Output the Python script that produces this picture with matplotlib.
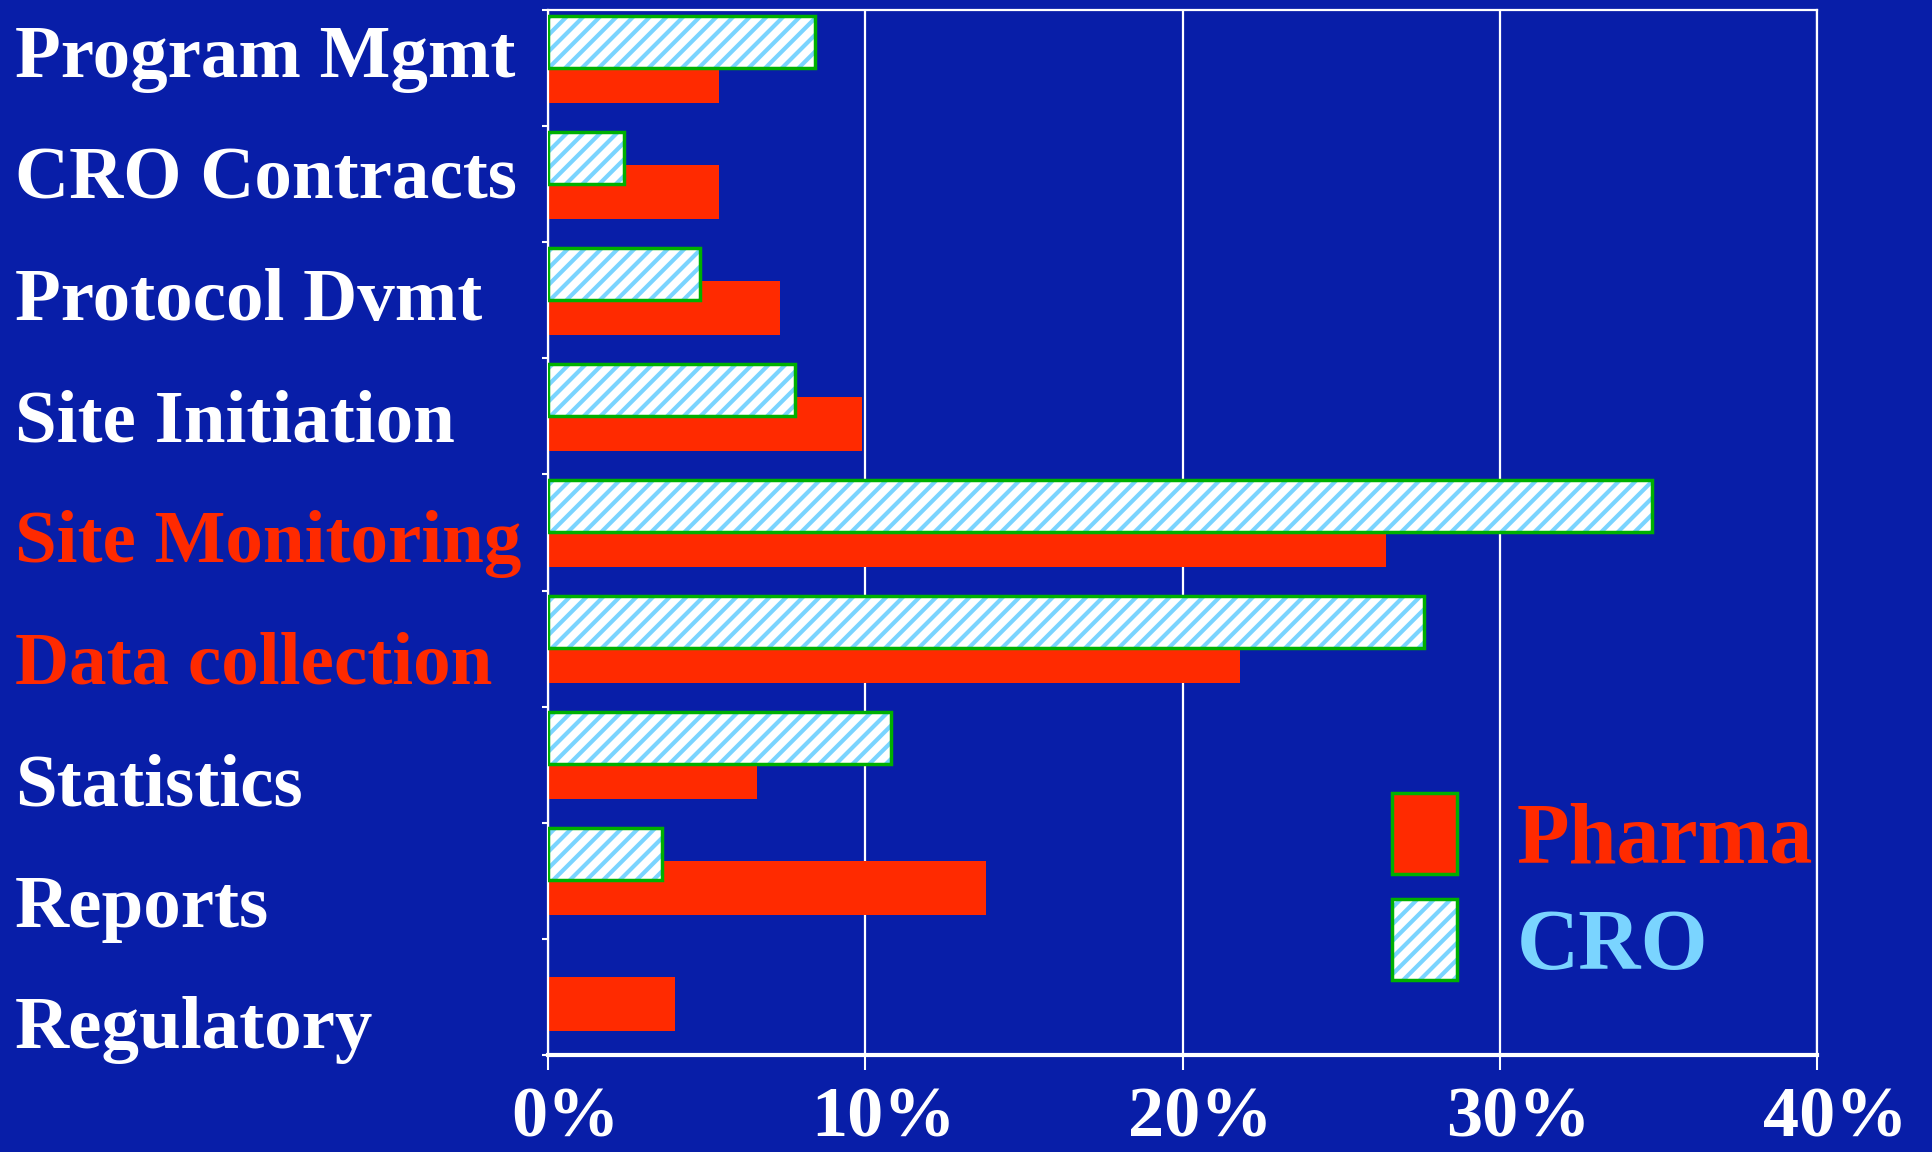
import numpy as np
import matplotlib
matplotlib.use("Agg")
import matplotlib.pyplot as plt
import matplotlib.transforms as mtransforms
from matplotlib.patches import Patch

# data (percent of effort)
tasks = ["Program Mgmt", "CRO Contracts", "Protocol Dvmt", "Site Initiation",
         "Site Monitoring", "Data collection", "Statistics", "Reports", "Regulatory"]
pharma = [5.4, 5.4, 7.3, 9.9, 26.4, 21.8, 6.6, 13.8, 4.0]
cro = [8.4, 2.4, 4.8, 7.8, 34.8, 27.6, 10.8, 3.6, 0.0]
highlight = ["Site Monitoring", "Data collection"]
xticks = [0, 10, 20, 30, 40]

blue = "#081EA8"
red = "#FF2A00"
green = "#00B000"
light = "#7AD4FF"

plt.rcParams['font.family'] = ['Liberation Serif', 'DejaVu Serif']
plt.rcParams['font.weight'] = 'bold'
plt.rcParams['hatch.linewidth'] = 3.0

fig = plt.figure(figsize=(19.32, 11.52), dpi=100, facecolor=blue)
ax = fig.add_axes([0.2836, 0.0845, 0.9407 - 0.2836, 0.991 - 0.0845])
ax.set_facecolor(blue)

y = np.arange(len(tasks))
cro = np.array(cro)
pharma = np.array(pharma)

ax.barh(y + 0.065, pharma, height=0.467, color=red, linewidth=0, zorder=2)
m = cro > 0
ax.barh(y[m] - 0.23, cro[m], height=0.446, color="white", hatch="//",
        edgecolor=light, linewidth=0, zorder=3)
ax.barh(y[m] - 0.23, cro[m], height=0.446, fill=False,
        edgecolor=green, linewidth=2.5, zorder=4)

ax.set_xlim(0, 40)
ax.set_ylim(len(tasks) - 0.5, -0.5)

ax.grid(axis="x", color="white", linewidth=1.6, zorder=1)
ax.set_axisbelow(True)
for s in ax.spines.values():
    s.set_color("white")
    s.set_linewidth(1.6)
ax.spines["bottom"].set_linewidth(3)

ax.set_xticks(xticks)
ax.set_xticklabels([f"{v}%" for v in xticks], fontsize=52, color="white")
ax.tick_params(axis="x", length=11, width=1.5, color="white", pad=12)
shift = mtransforms.ScaledTranslation(0.18, 0, fig.dpi_scale_trans)
for lab in ax.get_xticklabels():
    lab.set_transform(lab.get_transform() + shift)

# labels sit on their own slightly wider spacing than the bars
label_y = 0.074 + 1.046 * y
ax.set_yticks(label_y)
ax.set_yticklabels(tasks, fontsize=54, ha="left", va="baseline")
for lab in ax.get_yticklabels():
    lab.set_color(red if lab.get_text() in highlight else "white")
ax.tick_params(axis="y", which="major", length=0, pad=384)
ax.set_yticks(np.arange(-0.5, len(tasks), 1), minor=True)
ax.tick_params(axis="y", which="minor", length=4, width=1.5, color="white")

handles = [Patch(facecolor=red, edgecolor=green, linewidth=2.5),
           (Patch(facecolor="white", hatch="//", edgecolor=light, linewidth=0),
            Patch(fill=False, edgecolor=green, linewidth=2.5))]
ax.legend(handles, ["Pharma", "CRO"], fontsize=62, labelcolor=[red, light],
          frameon=False, handlelength=0.75, handleheight=1.07,
          handletextpad=0.7, labelspacing=0.2, borderpad=0,
          loc="upper left", bbox_to_anchor=(0.631, 0.292))

fig.savefig("out.png", dpi=100, facecolor=blue)
